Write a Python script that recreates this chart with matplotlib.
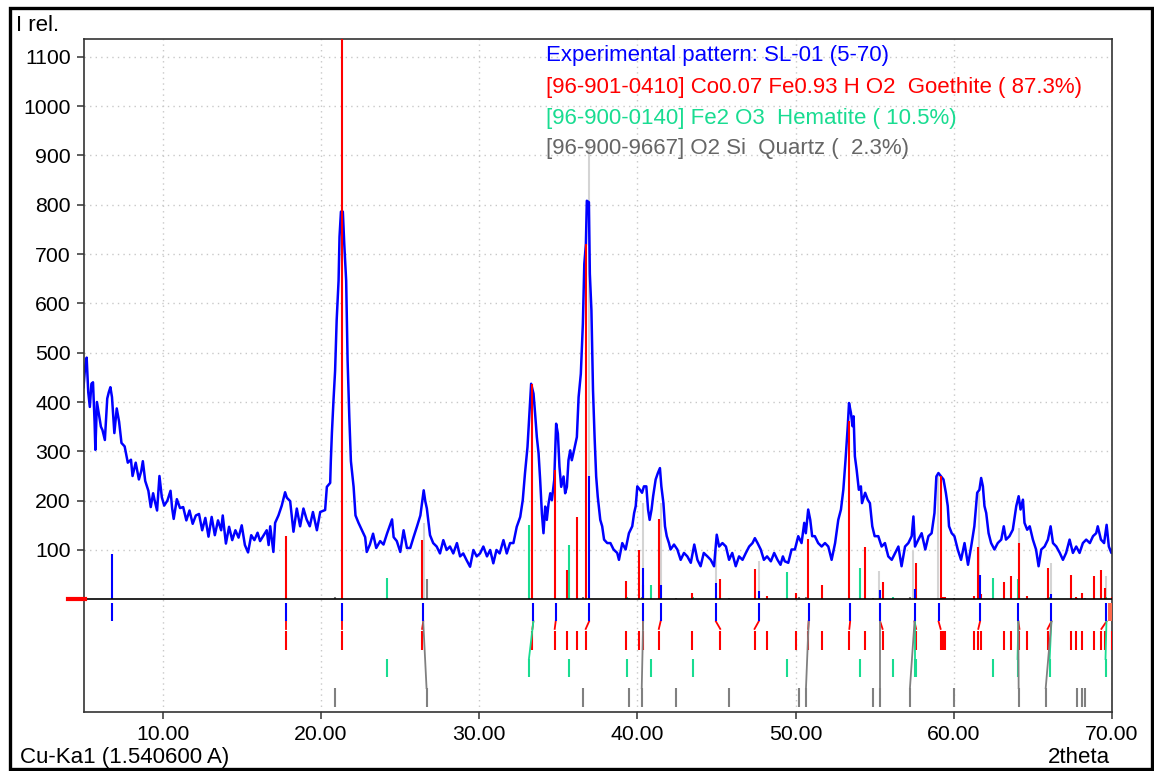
import matplotlib
matplotlib.use("Agg")
import matplotlib.pyplot as plt
from matplotlib.patches import Rectangle

plt.rcParams['font.family'] = ['Liberation Sans', 'DejaVu Sans']

# ---------------- data ----------------
exp_x = [5.0, 5.1, 5.2, 5.3, 5.4, 5.5, 5.6, 5.7, 5.75, 5.85, 6.0, 6.1, 6.2, 6.35, 6.5, 6.6, 6.7, 6.8,
         6.95, 7.1, 7.25, 7.4, 7.6, 7.8, 8.0, 8.1, 8.3, 8.5, 8.65, 8.75, 8.9, 9.1, 9.25, 9.4, 9.5,
         9.65, 9.8, 9.95, 10.1, 10.3, 10.5, 10.6, 10.7, 10.9, 11.1, 11.3, 11.5, 11.7, 11.9, 12.1,
         12.3, 12.5, 12.7, 12.9, 13.1, 13.3, 13.5, 13.7, 13.8, 14.0, 14.2, 14.4, 14.6, 14.8, 15.0,
         15.2, 15.4, 15.6, 15.8, 16.0, 16.16, 16.37, 16.58, 16.7, 16.8, 17.0, 17.11, 17.32, 17.53,
         17.74, 17.85, 18.06, 18.27, 18.48, 18.69, 18.9, 19.1, 19.3, 19.5, 19.75, 19.96, 20.27,
         20.38, 20.59, 20.63, 20.7, 20.8, 20.9, 21.0, 21.12, 21.18, 21.27, 21.39, 21.48, 21.6,
         21.69, 21.8, 21.9, 22.07, 22.19, 22.38, 22.6, 22.8, 22.9, 23.1, 23.3, 23.5, 23.75, 23.96,
         24.18, 24.5, 24.6, 24.8, 25.02, 25.23, 25.44, 25.65, 25.86, 26.08, 26.29, 26.5, 26.6, 26.7,
         26.9, 27.1, 27.32, 27.53, 27.74, 27.95, 28.16, 28.37, 28.6, 28.8, 29.0, 29.2, 29.43, 29.64,
         29.85, 30.06, 30.27, 30.5, 30.7, 30.9, 31.1, 31.3, 31.54, 31.75, 31.96, 32.17, 32.38, 32.6,
         32.76, 32.9, 33.06, 33.19, 33.29, 33.44, 33.54, 33.65, 33.76, 33.86, 33.97, 34.07, 34.18,
         34.28, 34.39, 34.5, 34.6, 34.75, 34.87, 34.98, 35.08, 35.19, 35.34, 35.44, 35.55, 35.65,
         35.76, 35.86, 36.0, 36.18, 36.29, 36.43, 36.56, 36.65, 36.75, 36.81, 36.94, 37.0, 37.1,
         37.2, 37.3, 37.4, 37.5, 37.66, 37.78, 37.9, 38.1, 38.3, 38.5, 38.73, 38.84, 39.05, 39.26,
         39.47, 39.68, 39.8, 39.9, 40.0, 40.17, 40.3, 40.42, 40.57, 40.68, 40.78, 40.9, 41.0, 41.16,
         41.3, 41.43, 41.52, 41.65, 41.75, 41.86, 42.0, 42.1, 42.32, 42.53, 42.74, 42.95, 43.16,
         43.38, 43.6, 43.8, 44.0, 44.2, 44.43, 44.64, 44.85, 45.02, 45.17, 45.38, 45.6, 45.8, 46.0,
         46.22, 46.43, 46.65, 46.86, 47.07, 47.28, 47.43, 47.6, 47.8, 48.0, 48.2, 48.44, 48.65,
         48.86, 49.05, 49.2, 49.32, 49.54, 49.75, 49.96, 50.17, 50.38, 50.55, 50.65, 50.8, 50.93,
         51.05, 51.22, 51.43, 51.65, 51.86, 52.07, 52.28, 52.5, 52.7, 52.87, 53.02, 53.16, 53.3,
         53.38, 53.5, 53.6, 53.67, 53.75, 53.86, 54.0, 54.13, 54.2, 54.4, 54.56, 54.7, 54.85, 55.0,
         55.23, 55.44, 55.65, 55.86, 56.08, 56.3, 56.5, 56.7, 56.92, 57.13, 57.34, 57.45, 57.55,
         57.76, 57.97, 58.2, 58.4, 58.6, 58.78, 58.9, 59.03, 59.2, 59.35, 59.5, 59.62, 59.7, 59.87,
         60.04, 60.25, 60.46, 60.68, 60.9, 61.1, 61.3, 61.48, 61.62, 61.73, 61.84, 61.94, 62.05,
         62.2, 62.36, 62.57, 62.78, 63.0, 63.16, 63.3, 63.52, 63.73, 63.95, 64.1, 64.22, 64.37,
         64.47, 64.64, 64.8, 65.0, 65.2, 65.36, 65.53, 65.74, 65.95, 66.12, 66.27, 66.48, 66.7,
         66.9, 67.1, 67.32, 67.53, 67.74, 67.95, 68.16, 68.37, 68.6, 68.8, 69.0, 69.1, 69.3, 69.5,
         69.66, 69.8, 69.96, 70.0]
exp_y = [430, 470, 490, 420, 390, 437, 440, 360, 303, 400, 370, 350, 343, 323, 407, 420, 430, 410,
         337, 387, 360, 317, 310, 277, 283, 250, 277, 243, 260, 280, 240, 220, 187, 215, 200,
         180, 250, 207, 190, 200, 220, 185, 163, 203, 185, 187, 160, 180, 153, 170,
         173, 140, 165, 127, 167, 130, 160, 140, 170, 113, 147, 120, 140, 125, 150,
         110, 95, 130, 120, 135, 118, 129, 140, 110, 148, 96, 155, 170, 190,
         217, 206, 199, 137, 184, 148, 184, 162, 148, 177, 140, 177, 181,
         228, 236, 280, 338, 404, 463, 566, 646, 735, 786, 786, 720, 646,
         485, 368, 280, 228, 170, 155, 140, 126, 96, 111, 133, 104, 118, 111,
         133, 162, 126, 118, 96, 140, 104, 104, 126, 148, 170, 221, 199, 184,
         130, 114, 107, 93, 120, 100, 107, 93, 114, 87, 93, 80, 66, 100,
         87, 93, 107, 87, 100, 73, 100, 93, 120, 93, 114, 114, 147, 167,
         201, 255, 309, 383, 437, 417, 377, 329, 296, 242, 174, 134, 188,
         161, 194, 215, 201, 242, 356, 336, 269, 228, 249, 215, 228, 282,
         302, 282, 302, 329, 410, 457, 559, 680, 720, 808, 805, 660, 586,
         424, 329, 249, 208, 161, 148, 121, 114, 114, 101, 94, 80, 114, 101,
         134, 148, 175, 189, 229, 222, 216, 229, 229, 182, 161, 182, 209, 243,
         256, 266, 229, 195, 148, 128, 114, 101, 111, 101, 80, 94, 87,
         74, 111, 80, 67, 94, 87, 80, 67, 131, 107, 114, 107, 80, 94,
         67, 87, 80, 94, 107, 114, 124, 114, 101, 80, 87, 77, 94,
         80, 70, 87, 77, 74, 101, 101, 128, 114, 155, 134, 182, 161,
         128, 128, 114, 107, 114, 107, 80, 114, 161, 182, 222, 283, 351,
         398, 378, 351, 371, 290, 263, 222, 229, 195, 216, 202, 195, 148, 128,
         128, 107, 114, 87, 80, 94, 107, 67, 107, 114, 128, 168, 107,
         121, 134, 101, 128, 134, 175, 249, 256, 249, 243, 216, 189, 148, 134,
         128, 101, 80, 114, 70, 107, 148, 216, 222, 246, 229, 189, 175,
         134, 114, 101, 114, 121, 148, 121, 128, 141, 189, 209, 182, 202,
         155, 141, 148, 121, 101, 67, 101, 107, 121, 148, 114, 107, 94,
         80, 94, 121, 94, 107, 94, 114, 121, 114, 128, 134, 148, 121, 114,
         151, 107, 94, 100]

# experimental peak positions (blue) and their marks above zero
peak_pos = [6.82, 17.82, 21.34, 26.47, 33.43, 34.84, 36.95, 40.37, 41.47, 44.97, 47.67, 50.83,
            53.45, 55.35, 57.52, 59.04, 61.66, 64.08, 66.17, 69.65]
peak_h = [92, 0, 0, 0, 0, 0, 249, 64, 30, 33, 16, 0, 0, 18, 21, 0, 50, 0, 10, 0]

# Goethite (red)
goe_pos = [17.82, 21.34, 26.40, 33.37, 34.78, 35.58, 36.21, 36.74, 39.30, 40.08, 40.37, 41.36,
           43.43, 45.24, 47.41, 48.21, 50.00, 50.80, 51.68, 53.40, 54.42, 55.50, 57.62, 59.17,
           59.35, 59.45, 61.27, 61.55, 61.74, 63.15, 63.63, 64.15, 64.63, 65.93, 67.41, 67.75,
           68.12, 68.87, 69.33, 69.58, 70.00]
goe_h = [128, 1300, 121, 437, 262, 60, 167, 720, 38, 99, 30, 163,
         13, 41, 61, 7, 13, 122, 30, 361, 107, 36, 74, 249,
         5, 4, 6, 107, 10, 36, 47, 115, 6, 63, 50, 4,
         13, 47, 59, 23, 4]

# Hematite (green)
hem_pos = [24.15, 33.15, 35.68, 39.32, 40.84, 43.53, 49.46, 54.05, 56.15, 57.52, 57.62, 62.48,
           64.03, 66.06, 69.59]
hem_h = [44, 151, 110, 4, 30, 4, 55, 63, 4, 10, 8, 43, 41, 4, 5]

# Quartz (gray)
qtz_pos = [20.87, 26.68, 36.59, 39.48, 40.28, 42.46, 45.81, 50.24, 50.66, 54.92, 55.35, 57.23,
           60.01, 64.10, 65.81, 67.77, 68.13, 68.32]
qtz_h = [5, 42, 4, 3, 4, 3, 3, 4, 5, 3, 4, 4, 3, 4, 3, 3, 3, 3]

# summed (light gray) marks
sum_pos = [26.55, 36.95, 40.38, 41.48, 44.96, 47.66, 55.27, 57.40, 59.03, 61.62, 64.10, 66.12, 69.64]
sum_h = [155, 930, 195, 195, 100, 77, 57, 97, 249, 216, 145, 74, 47]

# links between experimental peaks and phase lines: (exp position, phase position)
goe_links = [(17.82, 17.82), (21.34, 21.34), (26.47, 26.40), (33.43, 33.37), (34.84, 34.78),
             (36.95, 36.74), (40.37, 40.37), (41.47, 41.36), (44.97, 45.24), (47.67, 47.41),
             (50.83, 50.80), (53.45, 53.40), (55.35, 55.50), (57.52, 57.62), (59.04, 59.17),
             (61.66, 61.55), (64.08, 64.15), (66.17, 65.93), (69.65, 69.33)]
hem_links = [(33.43, 33.15), (57.52, 57.52), (64.08, 64.03), (66.17, 66.06), (69.65, 69.59)]
qtz_links = [(26.47, 26.68), (40.37, 40.28), (50.83, 50.66), (55.35, 55.35), (57.52, 57.23),
             (64.08, 64.10), (66.17, 65.81)]

y_ticks = [100, 200, 300, 400, 500, 600, 700, 800, 900, 1000, 1100]
x_ticks = [10, 20, 30, 40, 50, 60, 70]
x_labels = ["10.00", "20.00", "30.00", "40.00", "50.00", "60.00", "70.00"]

legend_lines = ["Experimental pattern: SL-01 (5-70)",
                "[96-901-0410] Co0.07 Fe0.93 H O2  Goethite ( 87.3%)",
                "[96-900-0140] Fe2 O3  Hematite ( 10.5%)",
                "[96-900-9667] O2 Si  Quartz (  2.3%)"]

BLUE = "#0000ff"
RED = "#ff0000"
GREEN = "#19dc91"
GRAY = "#808080"
LGRAY = "#d4d4d4"

# ---------------- figure ----------------
W, H = 1154, 771
fig = plt.figure(figsize=(W / 100, H / 100), dpi=100)
fig.patch.set_facecolor("white")

ax = fig.add_axes([83.5 / W, 1 - 712 / H, (1112 - 83.5) / W, (712 - 39) / H])
ax.set_xlim(5, 70)
ax.set_ylim(-228.5, 1136)

# grid
for yv in y_ticks:
    ax.axhline(yv, color="#c8c8c8", lw=1.0, ls=(0, (1, 3)), zorder=0)
for xv in x_ticks:
    ax.axvline(xv, color="#c8c8c8", lw=1.0, ls=(0, (1, 3)), zorder=0)

# light gray summed marks
ax.vlines(sum_pos, 0, sum_h, color=LGRAY, lw=1.5, zorder=1)

# experimental pattern
ax.plot(exp_x, exp_y, color=BLUE, lw=1.8, zorder=2)

# phase sticks above zero
ax.vlines(qtz_pos, 0, qtz_h, color=GRAY, lw=1.5, zorder=3)
ax.vlines(hem_pos, 0, hem_h, color=GREEN, lw=1.5, zorder=3)
ax.vlines(goe_pos, 0, goe_h, color=RED, lw=1.5, zorder=3)
ax.vlines(peak_pos, 0, peak_h, color=BLUE, lw=1.5, zorder=4)

# zero line
ax.axhline(0, color="black", lw=1.2, zorder=5)

# rows below zero
row_exp = (-45, -7)
row_goe = (-102, -65)
row_hem = (-158, -121)
row_qtz = (-218, -180)

ax.vlines(peak_pos, row_exp[0], row_exp[1], color=BLUE, lw=1.5, zorder=4)
ax.vlines(goe_pos, row_goe[0], row_goe[1], color=RED, lw=1.5, zorder=3)
ax.vlines(hem_pos, row_hem[0], row_hem[1], color=GREEN, lw=1.5, zorder=3)
ax.vlines(qtz_pos, row_qtz[0], row_qtz[1], color=GRAY, lw=1.5, zorder=3)

for (ex, px) in goe_links:
    ax.plot([ex, px], [row_exp[0], row_goe[1] + 5], color=RED, lw=1.3, zorder=3)
for (ex, px) in hem_links:
    ax.plot([ex, px], [row_exp[0], row_hem[1]], color=GREEN, lw=1.3, zorder=3)
for (ex, px) in qtz_links:
    ax.plot([ex, px], [row_exp[0], row_qtz[1]], color=GRAY, lw=1.3, zorder=3)

# overlapping marks at the right end of the experimental row
ax.fill_between([69.75, 70.0], row_exp[0], row_exp[1], color="#ff6a4d", lw=0, zorder=3)

# red zero marker left of the axis
ax.plot([4.0, 5.1], [0, 0], color=RED, lw=3, clip_on=False, zorder=6)

# axes styling
for s in ax.spines.values():
    s.set_color("#333333")
    s.set_linewidth(1.2)
ax.set_yticks(y_ticks)
ax.set_yticklabels([str(v) for v in y_ticks])
ax.set_xticks(x_ticks)
ax.set_xticklabels(x_labels)
ax.tick_params(axis="both", direction="out", length=5, width=1.1, color="#333333",
               labelsize=15.3, labelcolor="black")
ax.tick_params(axis="y", pad=4)
ax.tick_params(axis="x", pad=4)

# texts
fs = 16
fig.text(16 / W, 1 - 31 / H, "I rel.", fontsize=fs, ha="left", va="baseline")
fig.text(20 / W, 1 - 763 / H, "Cu-Ka1 (1.540600 A)", fontsize=fs, ha="left", va="baseline")
fig.text(1110 / W, 1 - 763 / H, "2theta", fontsize=fs, ha="right", va="baseline")

leg_colors = [BLUE, RED, GREEN, "#666666"]
leg_base = [61, 93, 124, 154]
for t, c, b in zip(legend_lines, leg_colors, leg_base):
    fig.text(546 / W, 1 - b / H, t, fontsize=fs, color=c, ha="left", va="baseline")

# outer frame
fig.patches.append(Rectangle((10 / W, 1 - 769 / H), (1152 - 10) / W, (769 - 8) / H,
                             transform=fig.transFigure, fill=False, edgecolor="black",
                             lw=2.4, zorder=10))

fig.savefig("out.png", dpi=100)
